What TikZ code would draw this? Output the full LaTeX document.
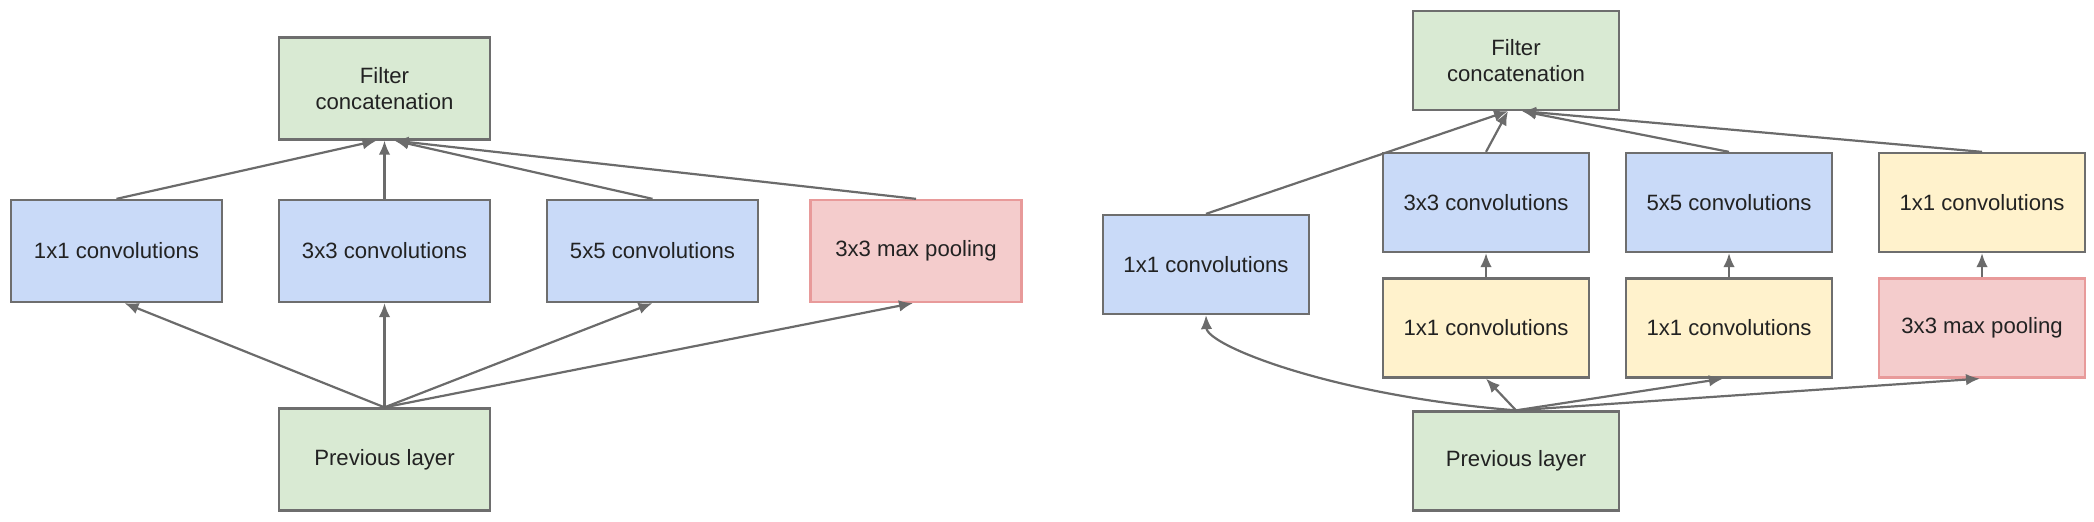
\documentclass[tikz,border=0pt]{standalone}
\usepackage{fontspec}
\setmainfont{Liberation Sans}
\usetikzlibrary{arrows.meta}
\definecolor{bordergray}{HTML}{6E6E6E}
\definecolor{arrowgray}{HTML}{6B6B6B}
\definecolor{gfill}{HTML}{D9EAD3}
\definecolor{bfill}{HTML}{C9DAF8}
\definecolor{rfill}{HTML}{F4CCCC}
\definecolor{rborder}{HTML}{E89A9A}
\definecolor{yfill}{HTML}{FFF2CC}
\definecolor{txt}{HTML}{222222}
\begin{document}
\begin{tikzpicture}[x=0.01cm,y=-0.01cm,
  box/.style={draw=bordergray, line width=0.022cm, minimum width=2.11cm, minimum height=1.02cm,
    inner sep=0pt, align=center, font=\fontsize{6.3}{7.6}\selectfont, text=txt},
  boxr/.style={box, minimum width=2.06cm, minimum height=0.99cm},
  green/.style={fill=gfill},
  blue/.style={fill=bfill},
  yellow/.style={fill=yfill},
  red/.style={fill=rfill, draw=rborder},
  conn/.style={draw=arrowgray, line width=0.022cm, -{Latex[length=0.14cm,width=0.115cm]}}
]
\useasboundingbox (0,0) rectangle (2094,522);

% ---------- left diagram ----------
\node[box,green] (f1) at (384.5,88.5) {Filter\\concatenation};
\node[box,blue]  (a1) at (116.5,251) {1x1 convolutions};
\node[box,blue]  (b1) at (384.5,251) {3x3 convolutions};
\node[box,blue]  (c1) at (652.5,251) {5x5 convolutions};
\node[box,red]   (d1) at (916,251) {3x3 max pooling};
\node[box,green] (p1) at (384.5,459.5) {Previous layer};

\draw[conn] (a1.north) -- ([xshift=-0.08cm]f1.south);
\draw[conn] (b1.north) -- (f1.south);
\draw[conn] (c1.north) -- ([xshift=0.1cm]f1.south);
\draw[conn] (d1.north) -- ([xshift=0.1cm]f1.south);

\draw[conn] (p1.north) -- ([xshift=0.08cm]a1.south);
\draw[conn] (p1.north) -- (b1.south);
\draw[conn] (p1.north) -- (c1.south);
\draw[conn] (p1.north) -- ([xshift=-0.03cm]d1.south);

% ---------- right diagram ----------
\node[boxr,green]  (f2) at (1516,60.5) {Filter\\concatenation};
\node[boxr,blue]   (a2) at (1206,264.5) {1x1 convolutions};
\node[boxr,blue]   (b2) at (1486,202.5) {3x3 convolutions};
\node[boxr,blue]   (c2) at (1729,202.5) {5x5 convolutions};
\node[boxr,yellow] (d2) at (1982,202.5) {1x1 convolutions};
\node[boxr,yellow] (e2) at (1486,328) {1x1 convolutions};
\node[boxr,yellow] (g2) at (1729,328) {1x1 convolutions};
\node[boxr,red]    (h2) at (1982,328) {3x3 max pooling};
\node[boxr,green]  (p2) at (1516,461) {Previous layer};

\draw[conn] (a2.north) -- ([xshift=-0.08cm]f2.south);
\draw[conn] (b2.north) -- ([xshift=-0.08cm]f2.south);
\draw[conn] (c2.north) -- ([xshift=0.06cm]f2.south);
\draw[conn] (d2.north) -- ([xshift=0.06cm]f2.south);

\draw[conn] (e2.north) -- (b2.south);
\draw[conn] (g2.north) -- (c2.south);
\draw[conn] (h2.north) -- (d2.south);

\draw[conn] (p2.north) .. controls +(-186,-15) and +(1,30) .. (a2.south);
\draw[conn] (p2.north) -- (e2.south);
\draw[conn] (p2.north) -- ([xshift=-0.06cm]g2.south);
\draw[conn] (p2.north) -- ([xshift=-0.02cm]h2.south);
\end{tikzpicture}
\end{document}
